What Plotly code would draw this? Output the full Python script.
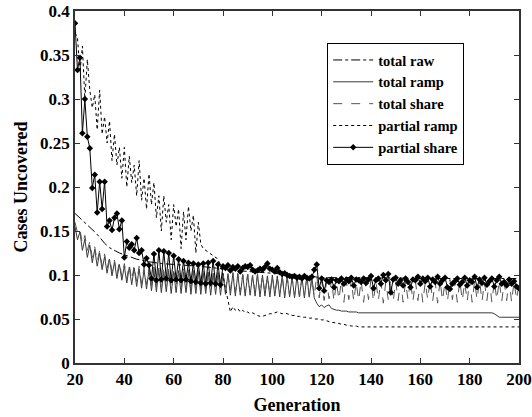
import plotly.graph_objects as go

generations = list(range(20, 201))

raw_gens = [20, 22, 24, 26, 28, 30, 32, 34, 36, 38, 40, 45, 50, 55, 60, 70, 80, 90,
            100, 110, 117, 120, 140, 160, 180, 200]
total_raw = [0.170, 0.165, 0.160, 0.155, 0.149, 0.143, 0.136, 0.131, 0.128, 0.125,
             0.123, 0.118, 0.115, 0.113, 0.112, 0.110, 0.107, 0.104, 0.102, 0.100,
             0.098, 0.097, 0.097, 0.096, 0.096, 0.096]

total_ramp = [
    0.155, 0.140, 0.149, 0.128, 0.141, 0.120, 0.134, 0.114, 0.129, 0.110,
    0.125, 0.106, 0.121, 0.102, 0.118, 0.099, 0.115, 0.096, 0.112, 0.094,
    0.110, 0.091, 0.109, 0.089, 0.108, 0.087, 0.107, 0.085, 0.106, 0.084,
    0.106, 0.082, 0.105, 0.081, 0.106, 0.080, 0.104, 0.081, 0.105, 0.079,
    0.104, 0.080, 0.105, 0.079, 0.103, 0.080, 0.104, 0.078, 0.103, 0.079,
    0.104, 0.078, 0.102, 0.079, 0.103, 0.077, 0.102, 0.078, 0.103, 0.077,
    0.102, 0.078, 0.101, 0.077, 0.102, 0.076, 0.101, 0.077, 0.100, 0.076,
    0.101, 0.077, 0.100, 0.076, 0.101, 0.075, 0.100, 0.076, 0.099, 0.075,
    0.100, 0.076, 0.099, 0.075, 0.100, 0.074, 0.099, 0.075, 0.098, 0.074,
    0.099, 0.075, 0.098, 0.074, 0.099, 0.075, 0.098, 0.074, 0.068, 0.064,
    0.066, 0.063, 0.065, 0.066, 0.062, 0.061, 0.060, 0.060, 0.059, 0.059,
    0.059, 0.058, 0.058, 0.058, 0.058, 0.057, 0.057, 0.057, 0.057, 0.057,
    0.057, 0.057, 0.057, 0.057, 0.057, 0.057, 0.057, 0.057, 0.057, 0.057,
    0.057, 0.057, 0.057, 0.057, 0.057, 0.057, 0.057, 0.057, 0.057, 0.057,
    0.057, 0.057, 0.057, 0.057, 0.057, 0.057, 0.057, 0.057, 0.057, 0.057,
    0.057, 0.057, 0.057, 0.057, 0.057, 0.057, 0.057, 0.057, 0.057, 0.057,
    0.057, 0.057, 0.057, 0.057, 0.057, 0.057, 0.057, 0.057, 0.057, 0.057,
    0.056, 0.054, 0.052, 0.052, 0.052, 0.052, 0.052, 0.052, 0.052, 0.052,
    0.052,
]

total_share = [
    0.160, 0.148, 0.152, 0.135, 0.145, 0.128, 0.138, 0.120, 0.132, 0.115,
    0.128, 0.110, 0.124, 0.107, 0.120, 0.104, 0.117, 0.100, 0.115, 0.098,
    0.113, 0.096, 0.112, 0.094, 0.111, 0.092, 0.110, 0.090, 0.109, 0.089,
    0.108, 0.088, 0.109, 0.087, 0.108, 0.086, 0.107, 0.087, 0.108, 0.085,
    0.107, 0.086, 0.106, 0.084, 0.107, 0.085, 0.106, 0.084, 0.105, 0.083,
    0.105, 0.084, 0.104, 0.083, 0.105, 0.082, 0.104, 0.083, 0.103, 0.082,
    0.103, 0.081, 0.102, 0.082, 0.103, 0.080, 0.102, 0.081, 0.101, 0.080,
    0.101, 0.079, 0.100, 0.080, 0.101, 0.078, 0.100, 0.079, 0.099, 0.078,
    0.099, 0.077, 0.098, 0.078, 0.099, 0.076, 0.098, 0.077, 0.097, 0.076,
    0.097, 0.075, 0.096, 0.076, 0.097, 0.074, 0.096, 0.075, 0.100, 0.074,
    0.094, 0.071, 0.093, 0.073, 0.095, 0.070, 0.092, 0.072, 0.094, 0.069,
    0.093, 0.072, 0.095, 0.070, 0.092, 0.071, 0.094, 0.069, 0.093, 0.072,
    0.095, 0.070, 0.093, 0.071, 0.094, 0.068, 0.092, 0.072, 0.095, 0.070,
    0.093, 0.071, 0.094, 0.069, 0.092, 0.072, 0.095, 0.070, 0.093, 0.071,
    0.094, 0.069, 0.092, 0.072, 0.095, 0.070, 0.093, 0.068, 0.094, 0.071,
    0.092, 0.070, 0.095, 0.072, 0.093, 0.069, 0.094, 0.071, 0.092, 0.070,
    0.095, 0.069, 0.093, 0.072, 0.094, 0.070, 0.092, 0.071, 0.095, 0.069,
    0.093, 0.072, 0.094, 0.070, 0.092, 0.071, 0.095, 0.069, 0.093, 0.072,
    0.090,
]

partial_ramp = [
    0.375, 0.370, 0.330, 0.360, 0.300, 0.345, 0.310, 0.290, 0.305, 0.265,
    0.310, 0.260, 0.280, 0.250, 0.275, 0.230, 0.260, 0.225, 0.245, 0.210,
    0.245, 0.200, 0.235, 0.205, 0.225, 0.190, 0.230, 0.185, 0.210, 0.175,
    0.215, 0.180, 0.205, 0.165, 0.190, 0.150, 0.190, 0.160, 0.180, 0.140,
    0.180, 0.155, 0.175, 0.130, 0.172, 0.140, 0.178, 0.150, 0.168, 0.125,
    0.160, 0.135, 0.130, 0.128, 0.125, 0.123, 0.121, 0.120, 0.118, 0.110,
    0.100, 0.085, 0.070, 0.058, 0.064, 0.060, 0.062, 0.058, 0.060, 0.057,
    0.058, 0.056, 0.057, 0.055, 0.054, 0.053, 0.053, 0.054, 0.055, 0.056,
    0.056, 0.057, 0.058, 0.057, 0.056, 0.057, 0.056, 0.055, 0.054, 0.054,
    0.053, 0.053, 0.052, 0.052, 0.052, 0.051, 0.051, 0.050, 0.050, 0.050,
    0.049, 0.049, 0.048, 0.047, 0.046, 0.046, 0.045, 0.045, 0.044, 0.044,
    0.043, 0.043, 0.042, 0.042, 0.042, 0.041, 0.041, 0.041, 0.041, 0.041,
    0.041, 0.041, 0.041, 0.041, 0.041, 0.041, 0.041, 0.041, 0.041, 0.041,
    0.041, 0.041, 0.041, 0.041, 0.041, 0.041, 0.041, 0.041, 0.041, 0.041,
    0.041, 0.041, 0.041, 0.041, 0.041, 0.041, 0.041, 0.041, 0.041, 0.041,
    0.041, 0.041, 0.041, 0.041, 0.041, 0.041, 0.041, 0.041, 0.041, 0.041,
    0.041, 0.041, 0.041, 0.041, 0.041, 0.041, 0.041, 0.041, 0.041, 0.041,
    0.041, 0.041, 0.041, 0.041, 0.041, 0.041, 0.041, 0.041, 0.041, 0.041,
    0.041,
]

partial_share = [
    0.386, 0.333, 0.347, 0.261, 0.300, 0.257, 0.244, 0.199, 0.214, 0.171,
    0.206, 0.175, 0.206, 0.155, 0.162, 0.151, 0.165, 0.170, 0.152, 0.162,
    0.120, 0.138, 0.131, 0.135, 0.128, 0.142, 0.125, 0.128, 0.112, 0.119,
    0.111, 0.096, 0.124, 0.094, 0.128, 0.095, 0.127, 0.096, 0.125, 0.094,
    0.122, 0.095, 0.118, 0.094, 0.116, 0.095, 0.114, 0.093, 0.113, 0.092,
    0.112, 0.091, 0.113, 0.090, 0.114, 0.091, 0.116, 0.090, 0.112, 0.089,
    0.110, 0.108, 0.111, 0.105, 0.109, 0.107, 0.110, 0.104, 0.108, 0.110,
    0.109, 0.111, 0.106, 0.104, 0.105, 0.107, 0.106, 0.109, 0.113, 0.107,
    0.106, 0.104, 0.108, 0.103, 0.101, 0.102, 0.100, 0.099, 0.098, 0.099,
    0.097, 0.098, 0.096, 0.099, 0.097, 0.096, 0.098, 0.106, 0.112, 0.085,
    0.096, 0.082, 0.094, 0.092, 0.095, 0.086, 0.094, 0.093, 0.096, 0.090,
    0.095, 0.093, 0.097, 0.088, 0.095, 0.094, 0.092, 0.096, 0.091, 0.095,
    0.099, 0.085, 0.094, 0.096, 0.090, 0.100, 0.094, 0.101, 0.080, 0.095,
    0.097, 0.090, 0.094, 0.088, 0.096, 0.092, 0.086, 0.095, 0.094, 0.098,
    0.090, 0.096, 0.093, 0.097, 0.087, 0.095, 0.092, 0.098, 0.090, 0.094,
    0.097, 0.086, 0.084, 0.090, 0.093, 0.096, 0.089, 0.092, 0.097, 0.088,
    0.094, 0.092, 0.098, 0.086, 0.095, 0.091, 0.097, 0.089, 0.093, 0.096,
    0.087, 0.094, 0.098, 0.090, 0.092, 0.088, 0.095, 0.090, 0.093, 0.087,
    0.085,
]

for arr in (total_ramp, total_share, partial_ramp, partial_share):
    assert len(arr) == len(generations), len(arr)

FONT = "Liberation Serif"

fig = go.Figure()
fig.add_trace(go.Scatter(x=raw_gens, y=total_raw, name="total raw", mode="lines",
                         line=dict(color="black", width=1, dash="dashdot")))
fig.add_trace(go.Scatter(x=generations, y=total_ramp, name="total ramp", mode="lines",
                         line=dict(color="#3a3a3a", width=1)))
fig.add_trace(go.Scatter(x=generations, y=total_share, name="total share", mode="lines",
                         line=dict(color="#555555", width=1, dash="dash")))
fig.add_trace(go.Scatter(x=generations, y=partial_ramp, name="partial ramp", mode="lines",
                         line=dict(color="black", width=1, dash="dot")))
fig.add_trace(go.Scatter(x=generations, y=partial_share, name="partial share",
                         mode="lines+markers",
                         line=dict(color="black", width=1),
                         marker=dict(symbol="diamond", size=5, color="black")))

axis_common = dict(
    showline=True, linecolor="#333333", linewidth=1.5, mirror="ticks",
    ticks="inside", ticklen=5, tickcolor="#333333", tickwidth=1,
    showgrid=False, zeroline=False, automargin=False,
    tickfont=dict(family=FONT, size=17, color="black", weight="bold"),
)

fig.update_layout(
    width=532, height=417,
    margin=dict(l=75, r=13, t=11, b=54),
    plot_bgcolor="white", paper_bgcolor="white",
    showlegend=True,
    legend=dict(x=0.568, y=0.909, xanchor="left", yanchor="top",
                bgcolor="white", bordercolor="black", borderwidth=1,
                itemwidth=40, tracegroupgap=0,
                font=dict(family=FONT, size=14.5, color="black", weight="bold")),
    hovermode=False,
)
fig.update_xaxes(range=[20, 200], tickmode="linear", tick0=20, dtick=20,
                 title=dict(text="Generation", standoff=10,
                            font=dict(family=FONT, size=18, color="black", weight="bold")),
                 **axis_common)
fig.update_yaxes(range=[0, 0.4], tickmode="linear", tick0=0, dtick=0.05,
                 title=dict(text="Cases Uncovered", standoff=8,
                            font=dict(family=FONT, size=18, color="black", weight="bold")),
                 **axis_common)

fig.write_html("out.html")
